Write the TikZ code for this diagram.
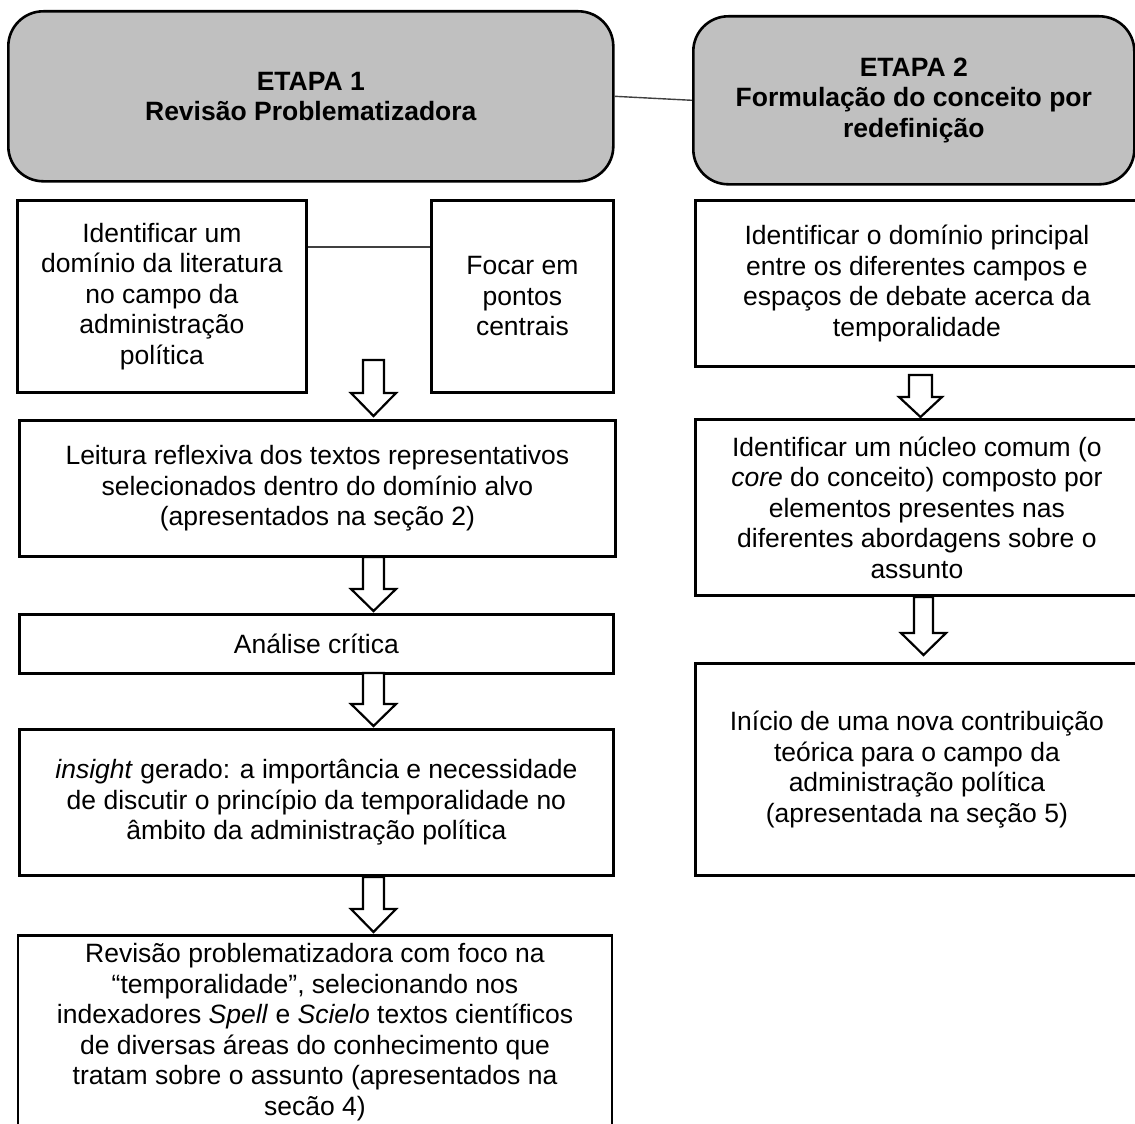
\documentclass[tikz,border=0pt]{standalone}
\usepackage{fontspec}
\setmainfont{Liberation Sans}
\usetikzlibrary{calc}
\definecolor{headgray}{HTML}{C0C0C0}
\tikzset{
  box/.style={draw, line width=2.8pt, fill=white, inner sep=0pt, anchor=north west,
    align=center, font=\fontsize{26.5}{30.5}\selectfont},
  head/.style={box, fill=headgray, rounded corners=35pt, line width=2.6pt,
    font=\fontsize{26.5}{30.5}\selectfont\bfseries},
  link/.style={line width=1.4pt, black!75},
  blockarrow/.style={draw, line width=2.2pt, fill=white, line join=miter}
}
% hollow down arrow: centre x, shaft top, head base, tip, shaft half width, head half width
\newcommand{\hollowdown}[6]{%
  \draw[blockarrow] ({#1-#5},#2) -- ({#1+#5},#2) -- ({#1+#5},#3) -- ({#1+#6},#3)
    -- (#1,#4) -- ({#1-#6},#3) -- ({#1-#5},#3) -- cycle;}
\begin{document}
\begin{tikzpicture}[x=1pt, y=-1pt]
\useasboundingbox (0,0) rectangle (1135,1124);
\clip (0,0) rectangle (1135,1124);

% stage headers
\node[head, minimum width=605, minimum height=170] (h1) at (7,10)
  {ETAPA 1\\Revisão Problematizadora};
\node[head, minimum width=441, minimum height=168] (h2) at (692,15)
  {ETAPA 2\\Formulação do conceito por\\redefinição};
\draw[link] (h1.east) -- (h2.west);

% stage 1
\node[box, minimum width=289, minimum height=192] (a) at (16,199)
  {Identificar um\\domínio da literatura\\no campo da\\administração\\política};
\node[box, minimum width=182, minimum height=192] (b) at (430,199)
  {Focar em\\pontos\\centrais};
\draw[link] ($(a.north east)+(0,48)$) -- ($(b.north west)+(0,48)$);

\node[box, minimum width=596, minimum height=136] (c) at (18,419)
  {Leitura reflexiva dos textos representativos\\selecionados dentro do domínio alvo\\(apresentados na seção 2)};
\node[box, minimum width=594, minimum height=59] (d) at (18,613)
  {Análise crítica};
\node[box, minimum width=594, minimum height=146] (e) at (18,728)
  {\textit{insight} gerado: a importância e necessidade\\de discutir o princípio da temporalidade no\\âmbito da administração política};
\node[box, minimum width=594, minimum height=206, anchor=north] (f) at (315,934) {};
\node[anchor=north, align=center, font=\fontsize{26.5}{30.5}\selectfont] (ft) at ($(f.north)+(0,6)$)
  {Revisão problematizadora com foco na\\“temporalidade”, selecionando nos\\indexadores \textit{Spell} e \textit{Scielo} textos científicos\\de diversas áreas do conhecimento que\\tratam sobre o assunto (apresentados na\\secão 4)};

\hollowdown{373.5}{360}{393}{416}{10.5}{22.5}
\hollowdown{373.5}{557}{589}{611}{10.5}{22.5}
\hollowdown{373.5}{673}{704}{726}{10.5}{22.5}
\hollowdown{373.5}{877}{909}{932}{10.5}{22.5}

% stage 2
\node[box, minimum width=443, minimum height=166] (g) at (694,199)
  {Identificar o domínio principal\\entre os diferentes campos e\\espaços de debate acerca da\\temporalidade};
\node[box, minimum width=443, minimum height=176] (hh) at (694,418)
  {Identificar um núcleo comum (o\\\textit{core} do conceito) composto por\\elementos presentes nas\\diferentes abordagens sobre o\\assunto};
\node[box, minimum width=443, minimum height=212] (i) at (694,662)
  {Início de uma nova contribuição\\teórica para o campo da\\administração política\\(apresentada na seção 5)};

\hollowdown{920.5}{375}{397}{417}{11.5}{21.5}
\hollowdown{923.5}{597}{633}{655}{9.5}{22.5}
\end{tikzpicture}
\end{document}
